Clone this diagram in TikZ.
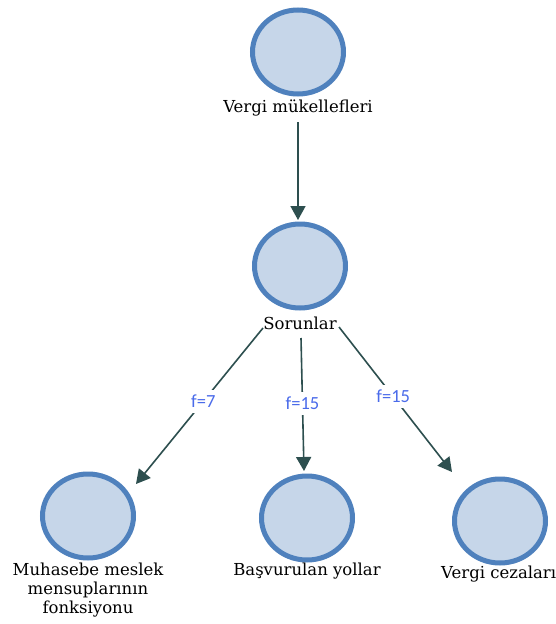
\documentclass[tikz,border=0pt]{standalone}
\usepackage{fontspec}
\setmainfont{DejaVu Serif}
\newfontfamily\lblfont{Carlito}
\usetikzlibrary{arrows.meta,shapes.geometric}
\definecolor{cfill}{HTML}{C6D6E9}
\definecolor{cline}{HTML}{4F81BD}
\definecolor{arrc}{HTML}{2D4F4F}
\definecolor{lblc}{HTML}{4A6BEA}
\begin{document}
\begin{tikzpicture}[x=1pt,y=-1pt,
  circ/.style={ellipse,draw=cline,fill=cfill,line width=5pt,minimum width=91pt,minimum height=84pt,inner sep=0pt},
  txt/.style={font=\fontsize{16.5}{19}\selectfont,align=center,inner sep=1pt},
  arr/.style={draw=arrc,line width=1.6pt,-{Triangle[width=15pt,length=14pt]}},
  lbl/.style={font=\lblfont\fontsize{18.5}{20}\selectfont,text=lblc,fill=white,inner sep=5pt}]
\useasboundingbox (0,0) rectangle (555,624);
\fill[white] (0,0) rectangle (555,624);
\node[circ] (c1) at (298,52) {};
\node[circ] (c2) at (300,266) {};
\node[circ] (c3) at (88,516) {};
\node[circ] (c4) at (307,518) {};
\node[circ] (c5) at (500,521) {};
\node[txt] (t1) at (298,108) {Vergi mükellefleri};
\node[txt] (t2) at (300,323) {Sorunlar};
\node[txt] (t3) at (88,590) {Muhasebe meslek\\mensuplarının\\fonksiyonu};
\node[txt] (t4) at (307,571) {Başvurulan yollar};
\node[txt,anchor=west] (t5) at (440,574) {Vergi cezaları};
\coordinate (s1) at (298,122);
\coordinate (e1) at (298,220);
\coordinate (s2) at (263,328);
\coordinate (e2) at (136,484);
\coordinate (s3) at (301,338);
\coordinate (e3) at (304,471);
\coordinate (s4) at (339,327);
\coordinate (e4) at (452,472);
\draw[arr] (s1) -- (e1);
\draw[arr] (s2) -- node[lbl,pos=0.47] (l1) {f=7} (e2);
\draw[arr] (s3) -- node[lbl,pos=0.49] (l2) {f=15} (e3);
\draw[arr] (s4) -- node[lbl,pos=0.48] (l3) {f=15} (e4);
\end{tikzpicture}
\end{document}
